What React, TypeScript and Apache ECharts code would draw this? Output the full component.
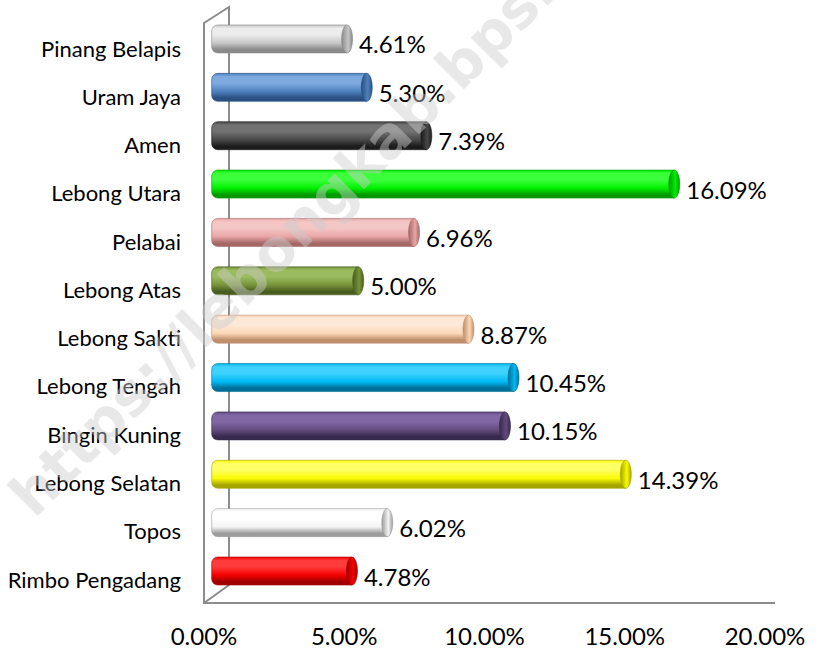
import React, { useEffect, useRef } from "react";
import * as echarts from "echarts";

const categories = [
  "Pinang Belapis",
  "Uram Jaya",
  "Amen",
  "Lebong Utara",
  "Pelabai",
  "Lebong Atas",
  "Lebong Sakti",
  "Lebong Tengah",
  "Bingin Kuning",
  "Lebong Selatan",
  "Topos",
  "Rimbo Pengadang",
];
const values = [4.61, 5.3, 7.39, 16.09, 6.96, 5.0, 8.87, 10.45, 10.15, 14.39, 6.02, 4.78];
const xTickMin = 0;
const xTickMax = 20;
const xTickStep = 5;
const watermark = "https://lebongkab.bps.go.id";

const barColors = [
  { base: "#c6c6c6", light: "#ececec", dark: "#8a8a8a" },
  { base: "#4f81bd", light: "#7eaae0", dark: "#2a4f82" },
  { base: "#474747", light: "#727272", dark: "#1c1c1c" },
  { base: "#00f000", light: "#3cff3c", dark: "#009a00" },
  { base: "#e8a5a5", light: "#f5c6c6", dark: "#a56868" },
  { base: "#779339", light: "#9bbb5f", dark: "#485d1f" },
  { base: "#fcd7b7", light: "#fee9d8", dark: "#bf8f6c" },
  { base: "#00b9f4", light: "#3fd2ff", dark: "#006e96" },
  { base: "#624b7e", light: "#8168a4", dark: "#37284d" },
  { base: "#fafa00", light: "#ffff66", dark: "#a5a500" },
  { base: "#f4f4f4", light: "#ffffff", dark: "#9c9c9c" },
  { base: "#f50000", light: "#ff3a3a", dark: "#a00000" },
];

const FONT = "Lato, 'Open Sans', sans-serif";

export default function App() {
  const ref = useRef<HTMLDivElement>(null);
  useEffect(() => {
    if (!ref.current) return;
    const chart = echarts.init(ref.current, undefined, { renderer: "svg" });
    const barH = 28;
    const option: any = {
      animation: false,
      backgroundColor: "#ffffff",
      grid: [
        { left: 204, right: 55, top: 23.9, bottom: 46.8 },
        { left: 215.7, right: 34.3, top: 14.8, bottom: 54.8 },
      ],
      xAxis: [
        {
          gridIndex: 0,
          type: "value",
          min: xTickMin,
          max: xTickMax,
          interval: xTickStep,
          axisLine: { show: false },
          axisTick: { show: false },
          splitLine: { show: false },
          axisLabel: {
            formatter: (v: number) => v.toFixed(2) + "%",
            fontFamily: FONT,
            fontSize: 24,
            color: "#000",
            margin: 20,
          },
        },
        {
          gridIndex: 1,
          type: "value",
          min: xTickMin,
          max: xTickMax,
          show: false,
        },
      ],
      yAxis: [
        {
          gridIndex: 0,
          type: "category",
          data: categories,
          inverse: true,
          axisLine: { show: false },
          axisTick: { show: false },
          splitLine: { show: false },
          axisLabel: {
            fontFamily: FONT,
            fontSize: 22,
            color: "#000",
            margin: 23,
          },
        },
        {
          gridIndex: 1,
          type: "category",
          data: categories,
          inverse: true,
          show: false,
        },
      ],
      graphic: [
        {
          type: "polyline",
          z: 1,
          shape: {
            points: [
              [204, 603],
              [229, 585],
              [229, 7],
              [204, 23],
              [204, 603],
              [775, 603],
            ],
          },
          style: { stroke: "#8c8c8c", lineWidth: 2, fill: null },
        },
        {
          type: "text",
          z: 100,
          x: 20,
          y: 505,
          rotation: Math.PI / 4,
          silent: true,
          style: {
            text: watermark,
            font: "bold 58px 'DejaVu Sans', sans-serif",
            fill: "rgba(205,205,205,0.45)",
            align: "left",
            verticalAlign: "middle",
          },
        },
      ],
      series: [
        {
          type: "custom",
          xAxisIndex: 1,
          yAxisIndex: 1,
          z: 5,
          data: values.map((v, i) => [v, i]),
          encode: { x: 0, y: 1 },
          renderItem: (params: any, api: any) => {
            const idx = params.dataIndex;
            const v = api.value(0);
            const cat = api.value(1);
            const end = api.coord([v, cat]);
            const start = api.coord([0, cat]);
            const cy = end[1];
            const c = barColors[idx % barColors.length];
            const body = new echarts.graphic.LinearGradient(0, 0, 0, 1, [
              { offset: 0, color: c.base },
              { offset: 0.12, color: c.light },
              { offset: 0.35, color: c.light },
              { offset: 0.65, color: c.base },
              { offset: 0.88, color: c.dark },
              { offset: 1, color: c.dark },
            ]);
            const cap = new echarts.graphic.LinearGradient(0, 0, 1, 0, [
              { offset: 0, color: c.dark },
              { offset: 0.6, color: c.base },
              { offset: 1, color: c.dark },
            ]);
            return {
              type: "group",
              children: [
                {
                  type: "rect",
                  shape: {
                    x: start[0] - 4,
                    y: cy - barH / 2,
                    width: end[0] - start[0] + 4,
                    height: barH,
                    r: [6, 0, 0, 6],
                  },
                  style: { fill: body, stroke: c.dark, lineWidth: 0.6 },
                },
                {
                  type: "ellipse",
                  shape: { cx: end[0], cy: cy, rx: 5.5, ry: barH / 2 },
                  style: { fill: cap, stroke: c.dark, lineWidth: 0.6 },
                },
                {
                  type: "text",
                  style: {
                    text: v.toFixed(2) + "%",
                    x: end[0] + 12,
                    y: cy + 5,
                    fill: "#000",
                    fontFamily: FONT,
                    fontSize: 24,
                    align: "left",
                    verticalAlign: "middle",
                  },
                },
              ],
            };
          },
        },
      ],
    };
    chart.setOption(option);
    return () => chart.dispose();
  }, []);
  return (
    <div
      ref={ref}
      style={{ position: "fixed", left: 0, top: 0, width: 820, height: 650 }}
    />
  );
}
